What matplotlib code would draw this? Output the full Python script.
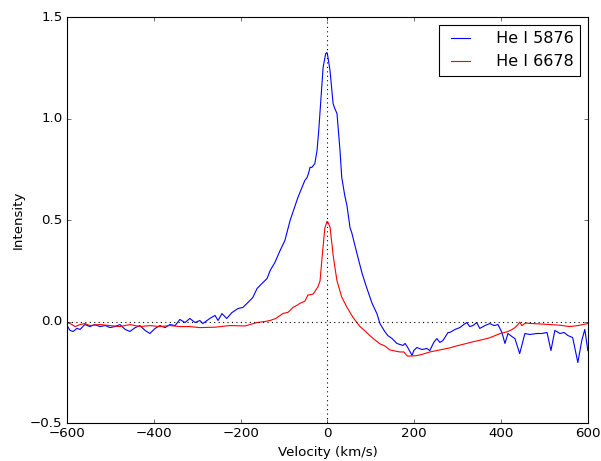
import numpy as np
import matplotlib
matplotlib.use('Agg')
import matplotlib.pyplot as plt

# He I 5876 profile (velocity in km/s, normalised intensity)
vel_5876 = [-600, -593, -586, -577, -570, -559, -547, -536, -524, -512,
            -501, -490, -478, -466, -455, -443, -432, -420, -409, -397,
            -386, -374, -363, -351, -340, -328, -317, -305, -294, -287,
            -271, -259, -252, -243, -232, -220, -206, -195, -183, -172,
            -162, -151, -139, -132, -121, -109, -98, -86, -68, -52,
            -47, -43, -40, -36, -29, -24, -20, -13, -10, -4,
            -1, 1, 6, 13, 17, 22, 29, 33, 40, 45,
            52, 56, 68, 80, 91, 103, 114, 121, 132, 139,
            149, 160, 167, 174, 179, 185, 195, 199, 206, 218,
            229, 236, 245, 252, 259, 266, 278, 282, 294, 305,
            314, 321, 328, 335, 344, 351, 363, 374, 384, 393,
            402, 409, 416, 425, 432, 443, 455, 466, 483, 494,
            506, 515, 524, 536, 545, 554, 565, 577, 586, 593,
            600]
int_5876 = [-0.020, -0.044, -0.049, -0.034, -0.039, -0.015, -0.025, -0.015, -0.025, -0.020,
            -0.030, -0.025, -0.015, -0.039, -0.049, -0.030, -0.020, -0.044, -0.059, -0.034,
            -0.020, -0.030, -0.015, -0.020, 0.010, -0.005, 0.015, -0.005, 0.005, -0.010,
            0.015, 0.030, 0.005, 0.039, 0.015, 0.044, 0.064, 0.069, 0.094, 0.118,
            0.163, 0.187, 0.212, 0.251, 0.291, 0.350, 0.399, 0.498, 0.611, 0.695,
            0.709, 0.734, 0.760, 0.759, 0.778, 0.842, 0.941, 1.153, 1.251, 1.320,
            1.325, 1.305, 1.236, 1.074, 1.049, 1.025, 0.842, 0.710, 0.620, 0.571,
            0.463, 0.438, 0.335, 0.236, 0.163, 0.089, 0.039, -0.010, -0.049, -0.069,
            -0.084, -0.108, -0.113, -0.118, -0.108, -0.128, -0.167, -0.143, -0.128, -0.138,
            -0.133, -0.143, -0.103, -0.084, -0.103, -0.094, -0.054, -0.054, -0.039, -0.030,
            -0.015, -0.005, -0.025, -0.020, -0.005, -0.034, -0.020, -0.010, -0.020, -0.015,
            -0.054, -0.108, -0.059, -0.074, -0.084, -0.158, -0.059, -0.064, -0.059, -0.059,
            -0.054, -0.143, -0.044, -0.059, -0.054, -0.069, -0.079, -0.202, -0.094, -0.039,
            -0.143]

# He I 6678 profile
vel_6678 = [-600, -593, -581, -570, -559, -547, -524, -501, -478, -455,
            -432, -409, -386, -363, -340, -317, -294, -259, -225, -190,
            -162, -144, -132, -119, -102, -91, -79, -70, -63, -52,
            -45, -33, -22, -17, -13, -6, -1, 1, 6, 13,
            17, 22, 29, 33, 45, 59, 75, 86, 98, 109,
            121, 132, 144, 155, 167, 176, 184, 195, 206, 218,
            236, 259, 282, 298, 317, 335, 356, 374, 397, 415,
            425, 432, 439, 443, 448, 456, 473, 489, 512, 535,
            558, 577, 600]
int_6678 = [-0.005, -0.010, -0.025, -0.015, -0.010, -0.020, -0.015, -0.020, -0.025, -0.015,
            -0.025, -0.020, -0.025, -0.020, -0.025, -0.025, -0.030, -0.028, -0.020, -0.022,
            -0.005, 0.000, 0.005, 0.015, 0.040, 0.045, 0.070, 0.080, 0.090, 0.100,
            0.130, 0.135, 0.170, 0.200, 0.300, 0.460, 0.493, 0.490, 0.465, 0.330,
            0.270, 0.200, 0.150, 0.120, 0.070, 0.020, -0.025, -0.045, -0.070, -0.090,
            -0.110, -0.120, -0.140, -0.145, -0.150, -0.150, -0.170, -0.170, -0.168, -0.162,
            -0.150, -0.140, -0.130, -0.120, -0.110, -0.100, -0.090, -0.080, -0.060, -0.050,
            -0.040, -0.030, -0.015, -0.003, -0.020, -0.008, -0.010, -0.012, -0.015, -0.018,
            -0.025, -0.020, -0.010]

plt.style.use('classic')
fig = plt.figure(figsize=(601 / 80, 461 / 80), dpi=80, facecolor='white')
ax = fig.add_axes([0.1115, 0.0824, 0.8666, 0.8807])

ax.plot(vel_5876, int_5876, 'b-', label=' He I 5876')
ax.plot(vel_6678, int_6678, 'r-', label=' He I 6678')
ax.axhline(0, color='k', linestyle=':')
ax.axvline(0, color='k', linestyle=':')

ax.set_xlim(-600, 600)
ax.set_ylim(-0.5, 1.5)
ax.set_xticks(np.arange(-600, 601, 200))
ax.set_yticks(np.arange(-0.5, 1.51, 0.5))
ax.set_xlabel('Velocity (km/s)')
ax.set_ylabel('Intensity')
ax.legend(loc='upper right', handlelength=1.8, handletextpad=1.0)

fig.savefig('out.png', dpi=80, facecolor='white')
